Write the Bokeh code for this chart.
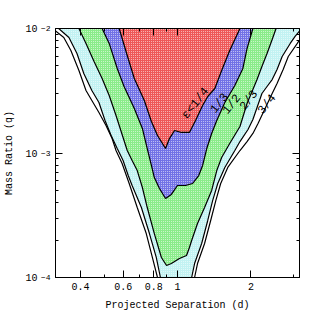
import numpy as np
from bokeh.plotting import figure
from bokeh.models import LogAxis, FixedTicker, CustomJSTickFormatter
from bokeh.core.properties import value
from bokeh.embed import file_html
from bokeh.resources import INLINE

# ---- contour data (log10 d, log10 q) ----
red_ld = [-0.239, -0.206, -0.177, -0.136, -0.107, -0.082, -0.049, -0.033, -0.012, 0.016, 0.049, 0.074, 0.103, 0.124, 0.153, 0.181, 0.214, 0.256]
red_lq = [-2.000, -2.217, -2.402, -2.578, -2.747, -2.859, -2.964, -2.884, -2.819, -2.835, -2.835, -2.739, -2.618, -2.546, -2.482, -2.337, -2.177, -2.000]

blue_ld = [-0.309, -0.280, -0.247, -0.219, -0.177, -0.144, -0.124, -0.107, -0.095, -0.074, -0.049, -0.025, 0.000, 0.033, 0.062, 0.087, 0.103, 0.120, 0.140, 0.161, 0.194, 0.235, 0.268, 0.285, 0.309]
blue_lq = [-2.000, -2.120, -2.321, -2.466, -2.643, -2.803, -2.964, -3.100, -3.197, -3.285, -3.365, -3.333, -3.261, -3.261, -3.245, -3.181, -3.100, -2.964, -2.843, -2.739, -2.594, -2.458, -2.321, -2.161, -2.000]

green_ld = [-0.404, -0.375, -0.342, -0.309, -0.280, -0.252, -0.231, -0.206, -0.186, -0.165, -0.144, -0.124, -0.095, -0.066, -0.045, -0.025, 0.008, 0.037, 0.049, 0.058, 0.082, 0.111, 0.140, 0.161, 0.181, 0.214, 0.256, 0.285, 0.309, 0.326, 0.346, 0.367, 0.388, 0.404]
green_lq = [-2.000, -2.120, -2.265, -2.402, -2.538, -2.699, -2.827, -2.980, -3.060, -3.141, -3.277, -3.438, -3.647, -3.839, -3.904, -3.888, -3.847, -3.823, -3.759, -3.703, -3.566, -3.438, -3.301, -3.141, -3.036, -2.924, -2.787, -2.602, -2.490, -2.410, -2.305, -2.201, -2.088, -2.000]

cyan_left_ld = [-0.487, -0.445, -0.412, -0.384, -0.351, -0.322, -0.297, -0.272, -0.247, -0.223, -0.202, -0.186, -0.148, -0.115, -0.087, -0.070]
cyan_left_lq = [-2.000, -2.072, -2.201, -2.361, -2.498, -2.594, -2.739, -2.859, -2.964, -3.060, -3.181, -3.261, -3.438, -3.647, -3.839, -4.000]
cyan_right_ld = [0.058, 0.070, 0.099, 0.124, 0.144, 0.165, 0.194, 0.235, 0.256, 0.289, 0.309, 0.346, 0.367, 0.388, 0.408, 0.429, 0.462, 0.482, 0.499]
cyan_right_lq = [-4.000, -3.888, -3.727, -3.542, -3.382, -3.245, -3.116, -2.980, -2.908, -2.811, -2.731, -2.522, -2.466, -2.410, -2.329, -2.225, -2.120, -2.064, -2.024]

outer_left_ld = [-0.507, -0.466, -0.437, -0.404, -0.375, -0.351, -0.322, -0.293, -0.268, -0.252, -0.227, -0.198, -0.165, -0.128, -0.103, -0.082]
outer_left_lq = [-2.008, -2.072, -2.177, -2.337, -2.498, -2.578, -2.675, -2.779, -2.884, -2.980, -3.084, -3.245, -3.438, -3.647, -3.839, -4.000]
outer_right_ld = [0.070, 0.082, 0.111, 0.136, 0.157, 0.177, 0.206, 0.256, 0.285, 0.309, 0.330, 0.359, 0.388, 0.408, 0.433, 0.454, 0.491, 0.499]
outer_right_lq = [-4.000, -3.888, -3.727, -3.542, -3.382, -3.245, -3.116, -2.980, -2.908, -2.843, -2.763, -2.643, -2.522, -2.442, -2.329, -2.225, -2.120, -2.096]

label_text = ["ε<1/4", "1/3", "1/2", "2/3", "3/4"]
label_ld = [0.074, 0.173, 0.223, 0.293, 0.367]
label_lq = [-2.602, -2.602, -2.610, -2.578, -2.610]

x_major = [0.4, 0.6, 0.8, 1, 2]
x_minor = [0.5, 0.7, 0.9, 3]
y_major = [1e-4, 1e-3, 1e-2]
y_minor = [k * 10.0 ** e for e in (-4, -3) for k in range(2, 10)]


def lin(a):
    return list(10.0 ** np.array(a))


FONT = "Liberation Mono"
COL_RED = "#ee5858"
COL_BLUE = "#7272e6"
COL_GREEN = "#8aec8a"
COL_CYAN = "#c2f2f2"
HATCH = dict(hatch_pattern=".", hatch_scale=2, hatch_weight=1,
             hatch_color="white", hatch_alpha=0.7)

p = figure(x_axis_type="log", y_axis_type="log",
           x_range=(10 ** -0.5, 10 ** 0.5), y_range=(1e-4, 1e-2),
           frame_width=244, frame_height=249,
           min_border_left=55, min_border_right=12,
           min_border_top=28, min_border_bottom=42,
           toolbar_location=None, output_backend="svg")
p.grid.visible = False
p.outline_line_color = "black"
p.background_fill_color = "white"

# fills, outer to inner
cx = lin(cyan_left_ld) + lin(cyan_right_ld) + [10 ** 0.499]
cy = lin(cyan_left_lq) + lin(cyan_right_lq) + [1e-2]
p.patch(cx, cy, fill_color=COL_CYAN, line_color=None, **HATCH)
p.patch(lin(green_ld), lin(green_lq), fill_color=COL_GREEN, line_color=None, **HATCH)
p.patch(lin(blue_ld), lin(blue_lq), fill_color=COL_BLUE, line_color=None, **HATCH)
p.patch(lin(red_ld), lin(red_lq), fill_color=COL_RED, line_color=None, **HATCH)

LW = 1.2
for xs, ys in [(red_ld, red_lq), (blue_ld, blue_lq), (green_ld, green_lq),
               (cyan_left_ld, cyan_left_lq), (cyan_right_ld, cyan_right_lq),
               (outer_left_ld, outer_left_lq), (outer_right_ld, outer_right_lq)]:
    p.line(lin(xs), lin(ys), line_color="black", line_width=LW)

p.text(x=lin(label_ld), y=lin(label_lq), text=label_text, angle=0.9,
       text_align="center", text_baseline="middle",
       text_font=value(FONT), text_font_size="12px", text_color="black")

xfmt = CustomJSTickFormatter(code="return String(Math.round(tick*10)/10);")
expfmt = CustomJSTickFormatter(code="return '\u2212' + String(Math.round(-Math.log10(tick)));")
tenfmt = CustomJSTickFormatter(code="return '10';")
blank = CustomJSTickFormatter(code="return '';")


def style(ax):
    ax.major_tick_in = 7
    ax.major_tick_out = 0
    ax.minor_tick_in = 3
    ax.minor_tick_out = 0
    ax.axis_line_color = "black"
    ax.major_tick_line_color = "black"
    ax.minor_tick_line_color = "black"
    ax.major_label_text_font = FONT
    ax.major_label_text_font_size = "10px"
    ax.major_label_text_color = "black"
    ax.axis_label_text_font = FONT
    ax.axis_label_text_font_size = "10px"
    ax.axis_label_text_font_style = "normal"
    ax.axis_label_text_color = "black"


xa = p.xaxis[0]
xa.ticker = FixedTicker(ticks=x_major, minor_ticks=x_minor)
xa.formatter = xfmt
xa.axis_label = "Projected Separation (d)"
style(xa)
xa.major_label_standoff = 5
xa.axis_label_standoff = 7

# inner left axis: ticks + exponents
ya = p.yaxis[0]
ya.ticker = FixedTicker(ticks=y_major, minor_ticks=y_minor)
ya.formatter = expfmt
style(ya)
ya.major_label_text_font_size = "8px"
ya.major_label_text_baseline = "alphabetic"
ya.major_label_standoff = 5

# outer left axis: the "10" mantissas and the axis title
ya2 = LogAxis(ticker=FixedTicker(ticks=y_major), formatter=tenfmt)
style(ya2)
ya2.axis_line_color = None
ya2.major_tick_line_color = None
ya2.minor_tick_line_color = None
ya2.major_tick_in = 0
ya2.minor_tick_in = 0
ya2.major_label_standoff = 0
ya2.axis_label = "Mass Ratio (q)"
ya2.axis_label_standoff = 7
p.add_layout(ya2, "left")

top = LogAxis(ticker=FixedTicker(ticks=x_major, minor_ticks=x_minor), formatter=blank)
style(top)
top.major_label_standoff = 0
p.add_layout(top, "above")
right = LogAxis(ticker=FixedTicker(ticks=y_major, minor_ticks=y_minor), formatter=blank)
style(right)
right.major_label_standoff = 0
p.add_layout(right, "right")

open("out.html", "w").write(file_html(p, INLINE))
